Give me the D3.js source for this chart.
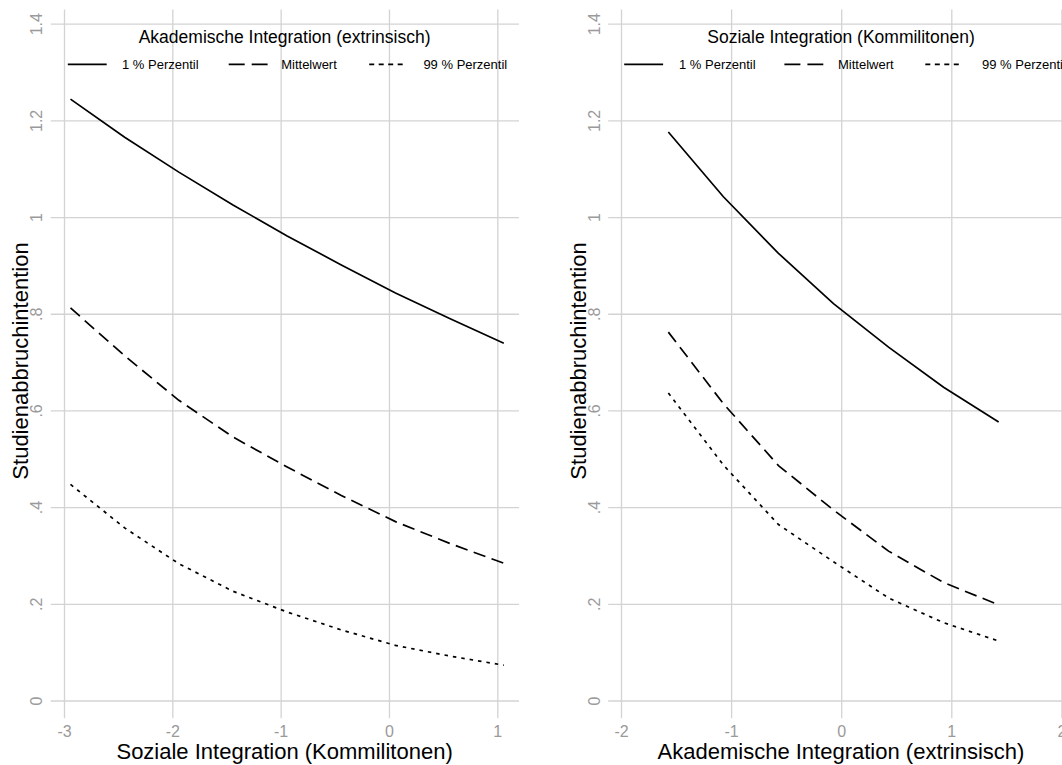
<!DOCTYPE html>
<html>
<head>
<meta charset="utf-8">
<script src="https://cdn.jsdelivr.net/npm/d3@7"></script>
<style>
  html, body { margin: 0; padding: 0; background: #fff; }
  svg { display: block; font-family: "Liberation Sans", Arial, sans-serif; }
</style>
</head>
<body>
<svg id="chart" width="1062" height="765"></svg>
<script>
// ---------- data ----------
const yTicks = [0, 0.2, 0.4, 0.6, 0.8, 1, 1.2, 1.4];
const yTickLabels = ["0", ".2", ".4", ".6", ".8", "1", "1.2", "1.4"];

const leftXTicks = [-3, -2, -1, 0, 1];
const leftXTickLabels = ["-3", "-2", "-1", "0", "1"];
const rightXTicks = [-2, -1, 0, 1, 2];
const rightXTickLabels = ["-2", "-1", "0", "1", "2"];

const seriesNames = ["1 % Perzentil", "Mittelwert", "99 % Perzentil"];

// Left panel: x = Soziale Integration (Kommilitonen)
const leftX      = [-2.94, -2.44, -1.94, -1.44, -0.94, -0.44, 0.06, 0.56, 1.06];
const leftP1     = [1.244, 1.165, 1.093, 1.025, 0.961, 0.901, 0.843, 0.790, 0.739];
const leftMean   = [0.812, 0.713, 0.621, 0.545, 0.483, 0.424, 0.370, 0.325, 0.284];
const leftP99    = [0.447, 0.357, 0.283, 0.226, 0.183, 0.146, 0.114, 0.092, 0.073];

// Right panel: x = Akademische Integration (extrinsisch)
const rightX     = [-1.57, -1.07, -0.57, -0.07, 0.43, 0.93, 1.43];
const rightP1    = [1.176, 1.042, 0.925, 0.821, 0.731, 0.648, 0.576];
const rightMean  = [0.762, 0.614, 0.486, 0.394, 0.309, 0.244, 0.198];
const rightP99   = [0.636, 0.487, 0.364, 0.287, 0.212, 0.161, 0.123];

const yTitle = "Studienabbruchintention";

// ---------- layout ----------
const svg = d3.select("#chart");
const gridColor = "#d3d3d3";
const tickColor = "#9a9a9a";
const dashStyles = [null, "12.5,6.5", "3.5,5"];
const legendDash = [null, "16,7", "5,4.5"];

const y = d3.scaleLinear().domain([0, 1.4]).range([700.5, 23.7]);

const panels = [
  {
    x: d3.scaleLinear().domain([-3, 1]).range([64, 497.3]),
    gridL: 50.8, gridR: 519, yLabX: 36, yTitleX: 20,
    xTicks: leftXTicks, xTickLabels: leftXTickLabels,
    xTitle: "Soziale Integration (Kommilitonen)", xTitleX: 284.6,
    legTitle: "Akademische Integration (extrinsisch)", legTitleX: 284.6,
    leg: [[67.8, 106.7, 122], [228.7, 267.6, 281.2], [369.2, 403.1, 423.4]],
    xs: leftX, series: [leftP1, leftMean, leftP99]
  },
  {
    x: d3.scaleLinear().domain([-2, 1]).range([621, 951.3]),
    gridL: 608.2, gridR: 1062, yLabX: 594, yTitleX: 578,
    xTicks: rightXTicks, xTickLabels: rightXTickLabels,
    xTitle: "Akademische Integration (extrinsisch)", xTitleX: 841,
    legTitle: "Soziale Integration (Kommilitonen)", legTitleX: 841,
    leg: [[624.2, 663.1, 679], [784.4, 823.3, 838], [925.3, 961.7, 982]],
    xs: rightX, series: [rightP1, rightMean, rightP99]
  }
];

panels.forEach(p => {
  const g = svg.append("g");

  // horizontal gridlines + rotated y tick labels via d3 axis
  const yAxis = d3.axisLeft(y)
    .tickValues(yTicks)
    .tickSize(-(p.gridR - p.gridL))
    .tickPadding(0)
    .tickFormat((d, i) => yTickLabels[i]);
  const ya = g.append("g").attr("transform", `translate(${p.gridL},0)`).call(yAxis);
  ya.select(".domain").remove();
  ya.selectAll(".tick line").attr("stroke", gridColor).attr("stroke-width", 1.3);
  ya.selectAll(".tick text")
    .attr("x", 0).attr("dy", "0.35em")
    .attr("transform", `translate(${p.yLabX - p.gridL},0) rotate(-90)`)
    .attr("text-anchor", "middle")
    .attr("fill", tickColor)
    .style("font-size", "16px")
    .style("font-family", "'Liberation Sans', Arial, sans-serif");

  // vertical gridlines + x tick labels via d3 axis
  const xAxis = d3.axisBottom(p.x)
    .tickValues(p.xTicks)
    .tickSize(-(718.2 - 9.5))
    .tickPadding(0)
    .tickFormat((d, i) => p.xTickLabels[i]);
  const xa = g.append("g").attr("transform", `translate(0,718.2)`).call(xAxis);
  xa.select(".domain").remove();
  xa.selectAll(".tick line").attr("stroke", gridColor).attr("stroke-width", 1.3);
  xa.selectAll(".tick text")
    .attr("y", 13.2).attr("dy", "0.35em")
    .attr("fill", tickColor)
    .style("font-size", "16px")
    .style("font-family", "'Liberation Sans', Arial, sans-serif");

  // curves
  const line = d3.line().x(d => p.x(d[0])).y(d => y(d[1]));
  p.series.forEach((vals, si) => {
    const pts = p.xs.map((xv, i) => [xv, vals[i]]);
    const path = g.append("path")
      .datum(pts)
      .attr("d", line)
      .attr("fill", "none")
      .attr("stroke", "#000")
      .attr("stroke-width", 1.7);
    if (dashStyles[si]) path.attr("stroke-dasharray", dashStyles[si]);
  });

  // axis titles
  g.append("text")
    .attr("x", p.xTitleX).attr("y", 751.3).attr("dy", "0.35em")
    .attr("text-anchor", "middle")
    .style("font-size", "22px").attr("fill", "#000")
    .text(p.xTitle);
  g.append("text")
    .attr("transform", `translate(${p.yTitleX},361) rotate(-90)`)
    .attr("dy", "0.35em")
    .attr("text-anchor", "middle")
    .style("font-size", "22px").attr("fill", "#000")
    .text(yTitle);

  // legend
  g.append("text")
    .attr("x", p.legTitleX).attr("y", 37.3).attr("dy", "0.35em")
    .attr("text-anchor", "middle")
    .style("font-size", "17.5px").attr("fill", "#000")
    .text(p.legTitle);
  p.leg.forEach((l, si) => {
    const ln = g.append("line")
      .attr("x1", l[0]).attr("x2", l[1])
      .attr("y1", 64.4).attr("y2", 64.4)
      .attr("stroke", "#000").attr("stroke-width", 1.7);
    if (legendDash[si]) ln.attr("stroke-dasharray", legendDash[si]);
    g.append("text")
      .attr("x", l[2]).attr("y", 64.4).attr("dy", "0.35em")
      .style("font-size", "13px").attr("fill", "#000")
      .text(seriesNames[si]);
  });
});
</script>
</body>
</html>
